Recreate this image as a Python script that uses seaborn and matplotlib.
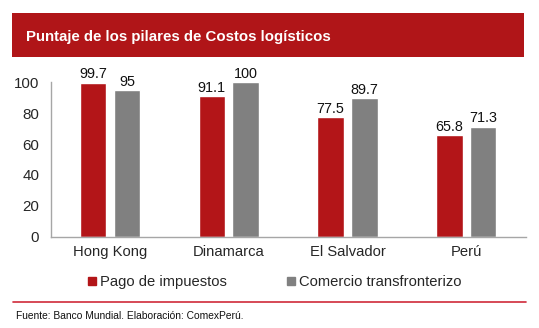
import matplotlib
matplotlib.use("Agg")
import matplotlib.pyplot as plt
import seaborn as sns
import pandas as pd
from matplotlib.patches import Rectangle
from matplotlib.lines import Line2D

categories = ["Hong Kong", "Dinamarca", "El Salvador", "Perú"]
pago_impuestos = [99.7, 91.1, 77.5, 65.8]
comercio_transfronterizo = [95, 100, 89.7, 71.3]
series_names = ["Pago de impuestos", "Comercio transfronterizo"]
value_labels_pago = ["99.7", "91.1", "77.5", "65.8"]
value_labels_com = ["95", "100", "89.7", "71.3"]
yticks = [0, 20, 40, 60, 80, 100]

title = "Puntaje de los pilares de Costos logísticos"
footer = "Fuente: Banco Mundial. Elaboración: ComexPerú."

RED = "#B31518"
GRAY = "#808080"
W, H = 539, 328

sns.set_style("white")
plt.rcParams["font.family"] = ["Liberation Sans", "DejaVu Sans"]

df = pd.DataFrame({
    "pais": categories * 2,
    "serie": [series_names[0]] * 4 + [series_names[1]] * 4,
    "valor": pago_impuestos + comercio_transfronterizo,
})

fig = plt.figure(figsize=(W / 100, H / 100), dpi=100)
ax = fig.add_axes([50.7 / W, 1 - 236.7 / H, (525.7 - 50.7) / W, (236.7 - 82.3) / H])

sns.barplot(data=df, x="pais", y="valor", hue="serie", order=categories,
            hue_order=series_names, palette=[RED, GRAY], width=0.569, gap=0.216,
            ax=ax, legend=False, saturation=1)

labels = [value_labels_pago, value_labels_com]
for cont, labs in zip(ax.containers, labels):
    ax.bar_label(cont, labels=labs, padding=1, fontsize=10.4, color="#111111")

ax.set_ylim(0, 100)
ax.set_xlim(-0.5, 3.5)
ax.set_yticks(yticks)
ax.set_yticklabels([str(v) for v in yticks], fontsize=10.9)
ax.set_xticks(range(4))
ax.set_xticklabels(categories, fontsize=10.6)
ax.set_xlabel("")
ax.set_ylabel("")
ax.set_xticks([-0.5, 0.5, 1.5, 2.5, 3.5], minor=True)
ax.tick_params(axis="x", which="major", length=0, pad=6)
ax.tick_params(axis="x", which="minor", length=3.6, color="#A6A6A6", direction="out")
ax.tick_params(axis="y", which="major", length=2.2, color="#A6A6A6", direction="out", pad=6)
for s in ["top", "right"]:
    ax.spines[s].set_visible(False)
for s in ["left", "bottom"]:
    ax.spines[s].set_color("#A6A6A6")
    ax.spines[s].set_linewidth(1.0)
for p in ax.patches:
    p.set_clip_on(False)

# title banner
fig.patches.append(Rectangle((12 / W, 1 - 57.3 / H), (524 - 12) / W, (57.3 - 12.7) / H,
                             transform=fig.transFigure, facecolor="#B01518",
                             edgecolor="none", zorder=0))
fig.text(26.5 / W, 1 - 37 / H, title, color="white", fontsize=10.8,
         fontweight="bold", va="center", ha="left")

# legend
handles = [Line2D([0], [0], marker="s", linestyle="none", markersize=6,
                  markerfacecolor=c, markeredgecolor=c) for c in [RED, GRAY]]
fig.legend(handles, series_names, loc="center", bbox_to_anchor=(274 / W, 1 - 281.7 / H),
           ncol=2, frameon=False, fontsize=10.6, handletextpad=0.2, columnspacing=3.97,
           handlelength=0.7)

# footer line and text
fig.add_artist(Line2D([13 / W, 526 / W], [1 - 302 / H, 1 - 302 / H],
                      transform=fig.transFigure, color="#D02A3A", linewidth=1.2))
fig.text(15.5 / W, 1 - 315.7 / H, footer, fontsize=7.4, va="center", ha="left",
         color="#111111")

fig.savefig("out.png", dpi=100)
